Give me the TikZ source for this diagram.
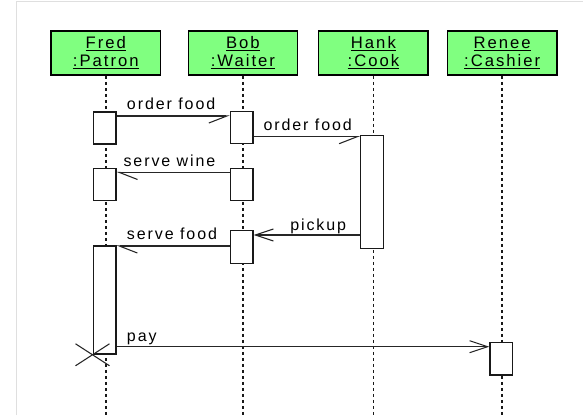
\documentclass[tikz,border=0pt]{standalone}
\usepackage{fontspec}
\setmainfont{Liberation Sans}[LetterSpace=12]
\usetikzlibrary{arrows.meta,calc}
\definecolor{hgreen}{RGB}{128,255,128}
\begin{document}
\begin{tikzpicture}[x=0.75pt,y=-0.75pt,
  head/.style={draw=black, line width=1.1pt, fill=hgreen, minimum width=82pt, minimum height=33.2pt,
    inner sep=0pt, align=center, font=\fontsize{12.5}{13.8}\selectfont},
  act/.style={draw=black!90, line width=1pt, fill=white, minimum width=17pt, inner sep=0pt, anchor=north},
  life/.style={draw=black!90, line width=1.3pt, dash pattern=on 2.25pt off 2.25pt},
  msg/.style={draw=black!85, line width=0.8pt},
  asyncR/.style={msg, -{Straight Barb[length=13.5pt,width=10.5pt,right]}},
  asyncL/.style={msg, -{Straight Barb[length=13.5pt,width=10.5pt,left]}},
  sync/.style={msg, -{Straight Barb[length=13.5pt,width=9pt]}},
  lbl/.style={inner sep=0pt, anchor=base west, text=black, font=\fontsize{12}{13.5}\selectfont}
]
\useasboundingbox (0,0) rectangle (583,415);
\fill[white] (0,0) rectangle (583,415);
\draw[gray!25, line width=0.75pt] (16.5,415) -- (16.5,1.5) -- (583,1.5);

% headers
\node[head] (fred)  at (105.8,52.9) {\underline{Fred}\\\underline{:Patron}};
\node[head] (bob)   at (242.9,52.9) {\underline{Bob}\\\underline{:Waiter}};
\node[head] (hank)  at (373.4,52.9) {\underline{Hank}\\\underline{:Cook}};
\node[head] (renee) at (502.2,52.9) {\underline{Renee}\\\underline{:Cashier}};

% lifeline ends
\coordinate (fredB)  at (fred.south |- 0,415);
\coordinate (bobB)   at (bob.south |- 0,415);
\coordinate (hankB)  at (hank.south |- 0,415);
\coordinate (reneeB) at (renee.south |- 0,415);
\draw[life] (fred.south) -- (fredB);
\draw[life] (bob.south) -- (bobB);
\draw[life] (hank.south) -- (hankB);
\draw[life] (renee.south) -- (reneeB);

% activations
\node[act, minimum height=24.1pt] (f1) at (104.7,111.3) {};
\node[act, minimum height=24.1pt] (b1) at (241.7,111.0) {};
\node[act, minimum height=84.8pt] (h1) at (372.0,134.6) {};
\node[act, minimum height=24.4pt] (f2) at (104.7,167.6) {};
\node[act, minimum height=24.4pt] (b2) at (241.7,167.6) {};
\node[act, minimum height=24.6pt] (b3) at (241.7,229.9) {};
\node[act, minimum height=81.1pt] (f3) at (104.5,245.3) {};
\node[act, minimum height=24.6pt] (r1) at (501.3,341.6) {};

% message levels
\coordinate (m1) at (0,116);
\coordinate (m2) at (0,136.7);
\coordinate (m3) at (0,172.5);
\coordinate (m4) at (0,235);
\coordinate (m5) at (0,246);
\coordinate (m6) at (0,346.7);

\draw[asyncR] (f1.east |- m1) -- (b1.west |- m1);
\draw[asyncR] (b1.east |- m2) -- (h1.west |- m2);
\draw[asyncL] (b2.west |- m3) -- (f2.east |- m3);
\draw[sync]   (h1.west |- m4) -- (b3.east |- m4);
\draw[asyncL] (b3.west |- m5) -- (f3.east |- m5);
\draw[sync]   (f3.east |- m6) -- (r1.west |- m6);

% labels
\node[lbl] (t1) at (126.7,109.3) {order food};
\node[lbl] (t2) at (263.3,130.7) {order food};
\node[lbl] (t3) at (123.3,166.0) {serve wine};
\node[lbl] (t4) at (290.0,230.0) {pickup};
\node[lbl] (t5) at (126.7,239.3) {serve food};
\node[lbl] (t6) at (126.7,341.7) {pay};

% destruction mark
\draw[msg] ($(f3.south west)+(-17,-11)$) -- ($(f3.south west)+(17,11)$);
\draw[msg] ($(f3.south west)+(17,-11)$) -- ($(f3.south west)+(-17,11)$);
\end{tikzpicture}
\end{document}
